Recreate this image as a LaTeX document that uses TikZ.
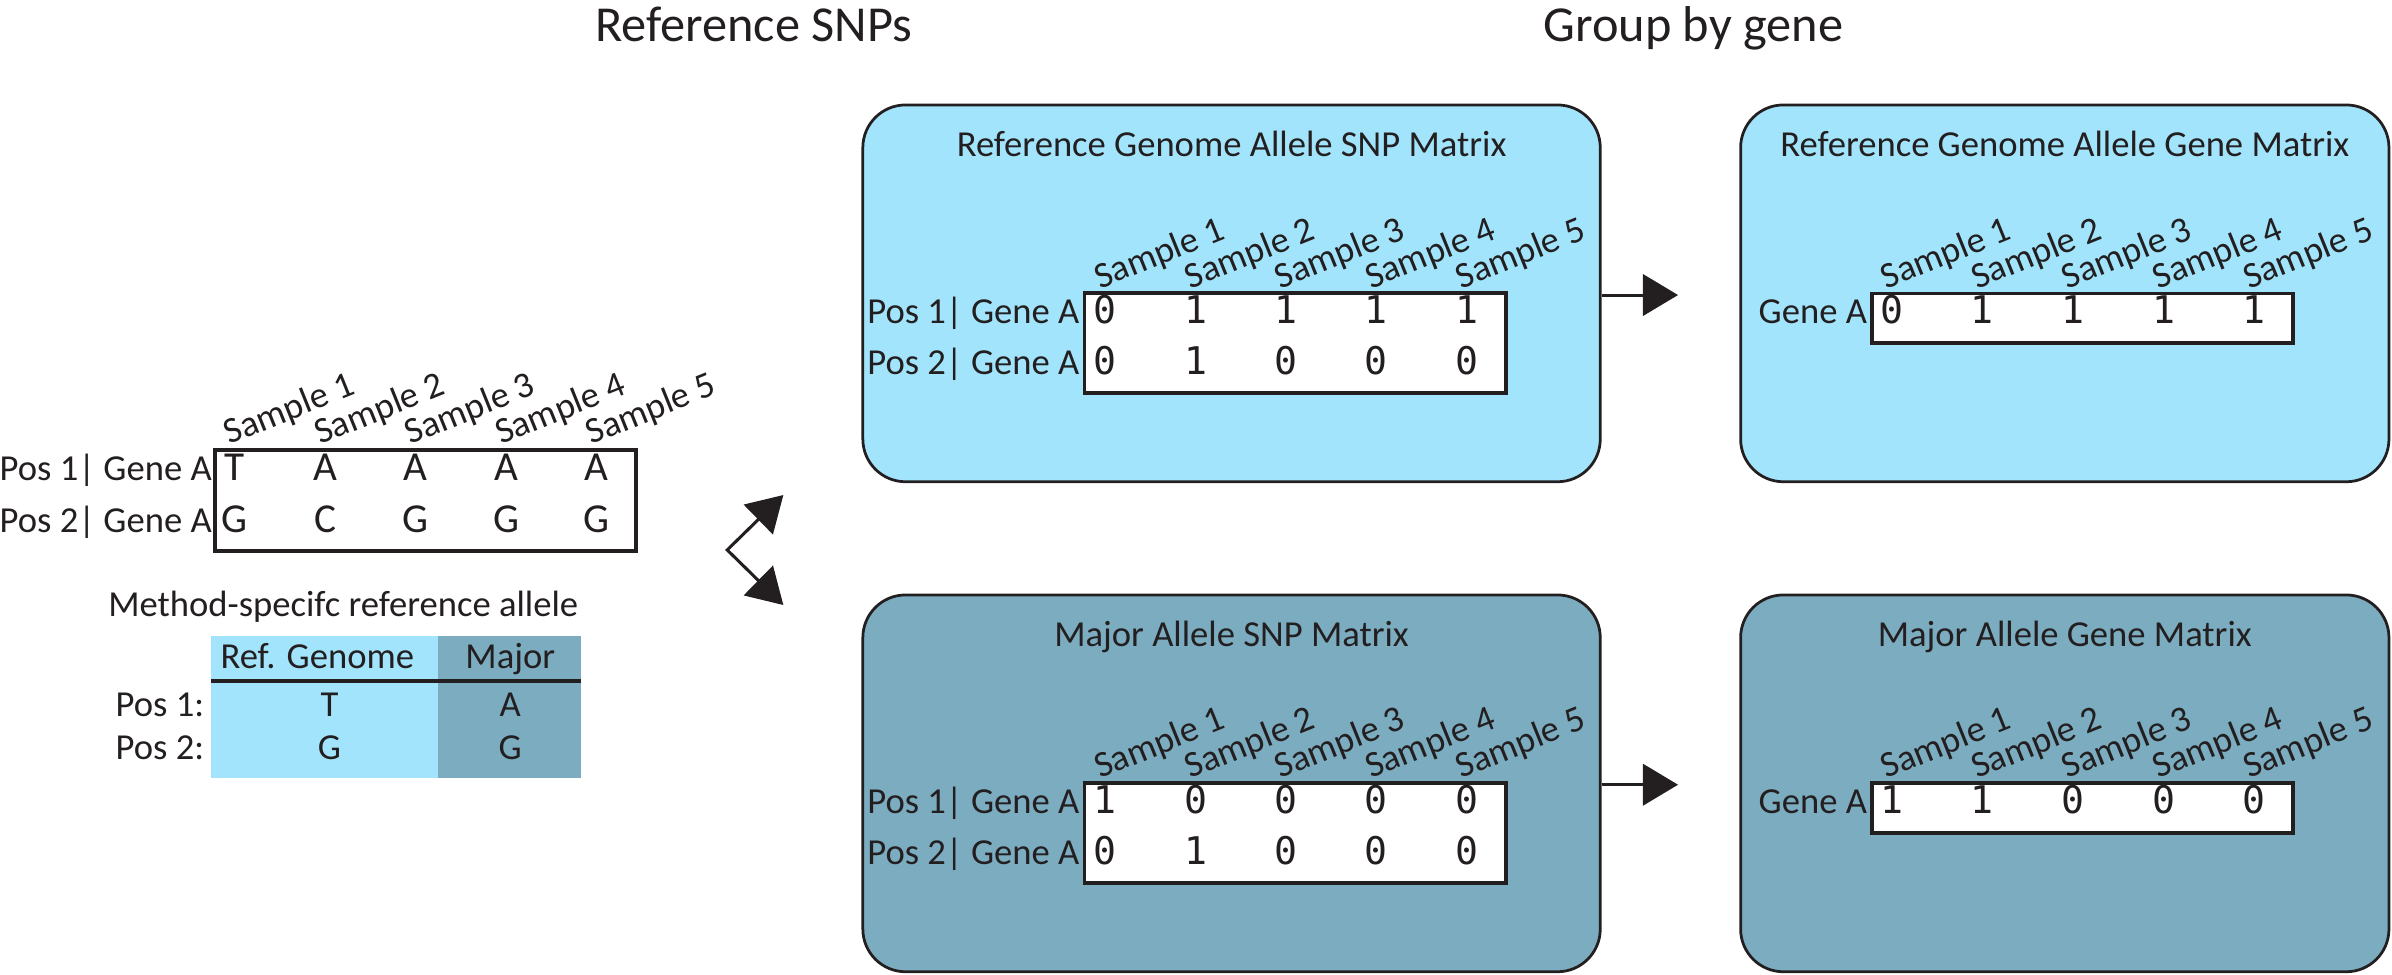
\documentclass[tikz,border=0pt]{standalone}
\usepackage{fontspec}
\setmainfont{Carlito}
\newfontfamily\monofont{DejaVu Sans Mono}
\usetikzlibrary{arrows.meta}
\definecolor{ink}{HTML}{231F20}
\definecolor{lightblue}{HTML}{A2E4FB}
\definecolor{darkblue}{HTML}{7BACC0}
\begin{document}
\begin{tikzpicture}[x=1pt,y=-1pt,
  txt/.style={inner sep=0pt, text=ink, font=\fontsize{24}{28}\selectfont},
  header/.style={inner sep=0pt, text=ink, font=\fontsize{33}{38}\selectfont, anchor=base},
  panel/.style={draw=ink, line width=1.8pt, rounded corners=28pt, inner sep=0pt,
     minimum height=247pt},
  matbox/.style={draw=ink, line width=2.4pt, fill=white, inner sep=0pt, minimum width=276pt},
  smp/.style={txt, rotate=22, anchor=base west},
  val/.style={inner sep=0pt, text=ink, font=\monofont\fontsize{25}{28}\selectfont, anchor=base},
  letter/.style={inner sep=0pt, text=ink, font=\fontsize{27}{30}\selectfont, anchor=base},
  rowlab/.style={txt, anchor=base east},
  arr/.style={draw=ink, line width=2pt, -{Triangle[length=23pt,width=27pt]}},
  darr/.style={draw=ink, line width=2pt, line join=miter,
     {Triangle[length=23pt,width=27pt]}-{Triangle[length=23pt,width=27pt]}},
  cell/.style={inner sep=0pt, minimum height=93pt}
]
\useasboundingbox (0,0) rectangle (1568,639);

% headers
\node[header] (h1) at (494,27.3) {Reference SNPs};
\node[header] (h2) at (1110,27.3) {Group by gene};

% panels
\node[panel, fill=lightblue, minimum width=483.4pt] (p1) at (807.3,192.3) {};
\node[panel, fill=lightblue, minimum width=425pt] (p2) at (1353.5,192.3) {};
\node[panel, fill=darkblue, minimum width=483.4pt] (p3) at (807.3,513.5) {};
\node[panel, fill=darkblue, minimum width=425pt] (p4) at (1353.5,513.5) {};

\node[txt, anchor=base] (t1) at (807.3,102.7) {Reference Genome Allele SNP Matrix};
\node[txt, anchor=base] (t2) at (1353.5,102.7) {Reference Genome Allele Gene Matrix};
\node[txt, anchor=base] (t3) at (807.3,424) {Major Allele SNP Matrix};
\node[txt, anchor=base] (t4) at (1353.5,424) {Major Allele Gene Matrix};

% matrix 1
\node[matbox, minimum height=65.5pt] (m1) at (849,225) {};
\node[rowlab] (m1r1) at (707.7,212) {Pos 1| Gene A};
\node[rowlab] (m1r2) at (707.7,245.8) {Pos 2| Gene A};
\foreach \i in {1,...,5} \node[smp] (m1s\i) at ({721+(\i-1)*59.2},189.7) {Sample \i};
\foreach \v [count=\i] in {0,1,1,1,1} \node[val] (m1a\i) at ({724.5+(\i-1)*59.2},212) {\v};
\foreach \v [count=\i] in {0,1,0,0,0} \node[val] (m1b\i) at ({724.5+(\i-1)*59.2},245.8) {\v};

% matrix 2
\node[matbox, minimum height=32.7pt] (m2) at (1365.25,208.65) {};
\node[rowlab] (m2r1) at (1224,212) {Gene A};
\foreach \i in {1,...,5} \node[smp] (m2s\i) at ({1236.5+(\i-1)*59.4},189.7) {Sample \i};
\foreach \v [count=\i] in {0,1,1,1,1} \node[val] (m2a\i) at ({1240+(\i-1)*59.4},212) {\v};

% matrix 3
\node[matbox, minimum height=65.5pt] (m3) at (849,546) {};
\node[rowlab] (m3r1) at (707.7,533) {Pos 1| Gene A};
\node[rowlab] (m3r2) at (707.7,566.8) {Pos 2| Gene A};
\foreach \i in {1,...,5} \node[smp] (m3s\i) at ({721+(\i-1)*59.2},510.7) {Sample \i};
\foreach \v [count=\i] in {1,0,0,0,0} \node[val] (m3a\i) at ({724.5+(\i-1)*59.2},533) {\v};
\foreach \v [count=\i] in {0,1,0,0,0} \node[val] (m3b\i) at ({724.5+(\i-1)*59.2},566.8) {\v};

% matrix 4
\node[matbox, minimum height=32.7pt] (m4) at (1365.25,529.65) {};
\node[rowlab] (m4r1) at (1224,533) {Gene A};
\foreach \i in {1,...,5} \node[smp] (m4s\i) at ({1236.5+(\i-1)*59.4},510.7) {Sample \i};
\foreach \v [count=\i] in {1,1,0,0,0} \node[val] (m4a\i) at ({1240+(\i-1)*59.4},533) {\v};

% arrows between panels
\coordinate (a1) at (1100,193.4);
\coordinate (a2) at (1100,514.4);
\draw[arr] (p1.east |- a1) -- (a1);
\draw[arr] (p3.east |- a2) -- (a2);

% left reference matrix
\node[matbox, minimum height=66pt] (L) at (279,328) {};
\node[rowlab] (Lr1) at (139,315) {Pos 1| Gene A};
\node[rowlab] (Lr2) at (139,349) {Pos 2| Gene A};
\foreach \i in {1,...,5} \node[smp] (Ls\i) at ({150.5+(\i-1)*59.25},291.7) {Sample \i};
\foreach \v [count=\i] in {T,A,A,A,A} \node[letter] (La\i) at ({154+(\i-1)*59.25},315) {\v};
\foreach \v [count=\i] in {G,C,G,G,G} \node[letter] (Lb\i) at ({154+(\i-1)*59.25},349) {\v};

% method-specific table
\node[txt, anchor=base] (mt) at (225,404) {Method-specifc reference allele};
\node[cell, fill=lightblue, minimum width=148.5pt] (cL) at (212.75,463.5) {};
\node[cell, fill=darkblue, minimum width=93.6pt] (cD) at (333.8,463.5) {};
\draw[ink, line width=2.5pt] (cL.west |- 0,446.4) coordinate (ls) -- (cD.east |- ls);
\node[txt, anchor=base] (hR) at (208,438) {Ref. Genome};
\node[txt, anchor=base] (hM) at (334.5,438) {Major};
\node[rowlab] (tp1) at (134,469.4) {Pos 1:};
\node[rowlab] (tp2) at (134,498) {Pos 2:};
\node[txt, anchor=base] (tT) at (216,469.4) {T};
\node[txt, anchor=base] (tA) at (334.5,469.4) {A};
\node[txt, anchor=base] (tG1) at (216,498) {G};
\node[txt, anchor=base] (tG2) at (334.5,498) {G};

% double arrow
\coordinate (du) at (513.5,324.5);
\coordinate (dv) at (476.7,360.5);
\coordinate (dd) at (513.5,396.6);
\draw[darr] (du) -- (dv) -- (dd);
\end{tikzpicture}
\end{document}
